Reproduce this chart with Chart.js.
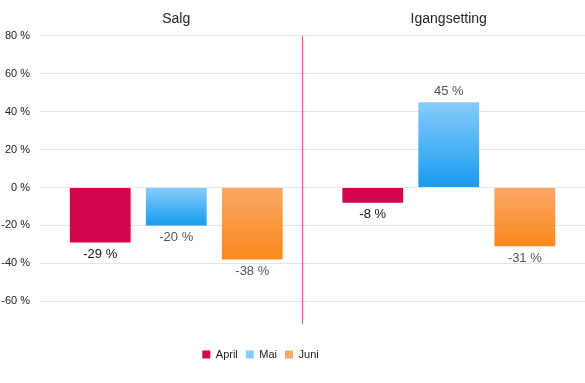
<!DOCTYPE html>
<html><head><meta charset="utf-8">
<script src="https://cdn.jsdelivr.net/npm/chart.js@4/dist/chart.umd.min.js"></script>
<style>html,body{margin:0;padding:0;background:#fff}#wrap{width:585px;height:383px}</style>
</head><body><div id="wrap"><canvas id="c"></canvas></div>
<script>
const categories = ['Salg', 'Igangsetting'];
const seriesNames = ['April', 'Mai', 'Juni'];
const april = [-29, -8];
const mai = [-20, 45];
const juni = [-38, -31];
const yTicks = [80, 60, 40, 20, 0, -20, -40, -60];
const dividerAt = 0.46; // category-scale position of the separator line

const colors = {
  April: ['#d5044f', '#d5044f'],
  Mai: ['#86ccfa', '#189bef'],
  Juni: ['#f9a868', '#fb881c']
};
const labelColors = {April: '#111', Mai: '#555', Juni: '#555'};
const FONT = '"Liberation Sans", Arial, sans-serif';
const legendShift = -32;

function grad(name) {
  return function(ctx) {
    const chart = ctx.chart;
    const [c1, c2] = colors[name];
    if (!chart.chartArea || ctx.raw === undefined) return c1;
    const y = chart.scales.y;
    const a = y.getPixelForValue(0), b = y.getPixelForValue(ctx.raw);
    const top = Math.min(a, b), bot = Math.max(a, b);
    if (bot - top < 1) return c1;
    const g = chart.ctx.createLinearGradient(0, top, 0, bot);
    g.addColorStop(0, c1); g.addColorStop(1, c2);
    return g;
  };
}

const labelPlugin = {
  id: 'vlabels',
  afterLayout(chart) {
    const lg = chart.legend;
    if (lg) { lg.left += legendShift; lg.right += legendShift; }
  },
  afterDatasetsDraw(chart) {
    const ctx = chart.ctx;
    ctx.save();
    ctx.font = '13px ' + FONT;
    ctx.textAlign = 'center';
    ctx.textBaseline = 'middle';
    chart.data.datasets.forEach((ds, i) => {
      chart.getDatasetMeta(i).data.forEach((el, j) => {
        const v = ds.data[j];
        ctx.fillStyle = labelColors[ds.label];
        const y = v < 0 ? el.y + 12 : el.y - 11;
        ctx.fillText(v + ' %', el.x, y);
      });
    });
    const x = chart.scales.x.getPixelForValue(dividerAt);
    ctx.strokeStyle = 'rgb(214,96,160)';
    ctx.lineWidth = 1.2;
    ctx.beginPath();
    ctx.moveTo(Math.round(x) + 0.5, chart.chartArea.top);
    ctx.lineTo(Math.round(x) + 0.5, chart.chartArea.bottom);
    ctx.stroke();
    ctx.restore();
  }
};

const datasets = [
  {label: 'April', data: april},
  {label: 'Mai', data: mai},
  {label: 'Juni', data: juni}
].map(d => ({...d, backgroundColor: grad(d.label), borderWidth: 0,
  categoryPercentage: 0.837, barPercentage: 0.8}));

new Chart(document.getElementById('c'), {
  type: 'bar',
  data: {labels: categories, datasets},
  plugins: [labelPlugin],
  options: {
    responsive: true, maintainAspectRatio: false, animation: false,
    layout: {padding: {left: 0, right: 0, top: 3, bottom: 13}},
    plugins: {
      tooltip: {enabled: false},
      legend: {
        position: 'bottom',
        title: {display: true, text: ' ', padding: {top: 0, bottom: 5}, font: {size: 10, family: FONT}},
        labels: {
          boxWidth: 8, boxHeight: 8, padding: 8, color: '#222',
          font: {size: 11, family: FONT},
          generateLabels(chart) {
            return chart.data.datasets.map((ds, i) => ({
              text: ds.label, fillStyle: colors[ds.label][0], strokeStyle: colors[ds.label][0],
              lineWidth: 0, hidden: false, datasetIndex: i, fontColor: '#222'
            }));
          }
        }
      }
    },
    scales: {
      x: {
        position: 'top',
        grid: {display: false, drawTicks: false},
        border: {display: false},
        ticks: {color: '#222', padding: 8, font: {size: 14, family: FONT}}
      },
      y: {
        min: -72, max: 80,
        afterBuildTicks(axis) { axis.ticks = yTicks.map(v => ({value: v})); },
        afterFit(axis) { axis.width = 40; },
        grid: {color: '#e4e4e4', drawTicks: false},
        border: {display: false},
        ticks: {color: '#222', padding: 10, font: {size: 11, family: FONT},
          callback: v => v + ' %'}
      }
    }
  }
});
</script></body></html>
